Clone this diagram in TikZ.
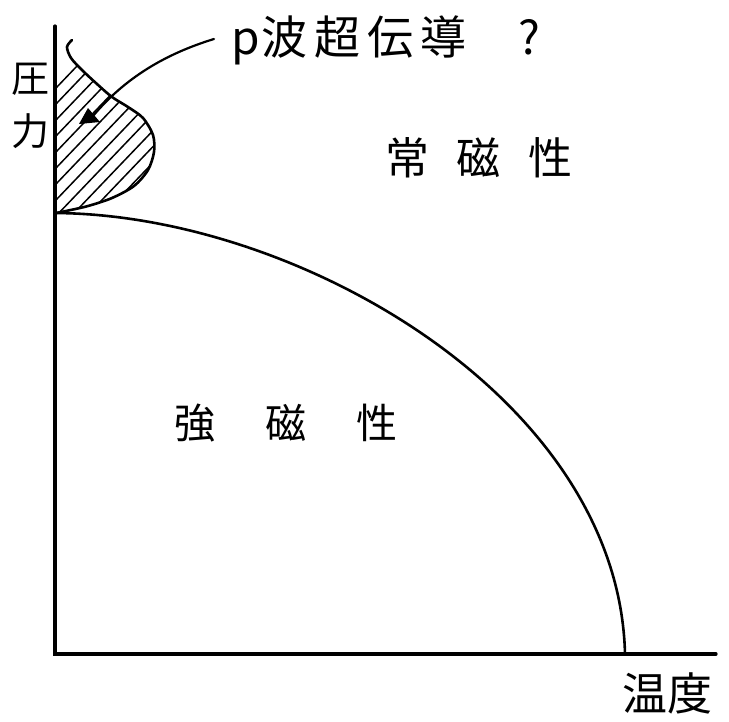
\documentclass[tikz,border=0pt]{standalone}
\usepackage{fontspec}
\newfontfamily\cjk{Noto Sans CJK JP}
\tikzset{
  axisline/.style={line width=3.2pt, line cap=round},
  phasecurve/.style={line width=2.6pt, line cap=round},
  hatchline/.style={line width=1.5pt},
  leader/.style={line width=2.2pt, line cap=round},
  tiphead/.style={fill=black},
  lbl/.style={inner sep=0pt, font=\cjk},
}
\begin{document}
\begin{tikzpicture}[x=1pt,y=-1pt]
\useasboundingbox (0,0) rectangle (729,721);
% axes
\coordinate (origin) at (55,654);
\coordinate (ytop) at (55,26);
\coordinate (xend) at (716,654);
\draw[axisline] (ytop) -- (origin) -- (xend);
% phase boundary
\coordinate (tcstart) at (56,213);
\coordinate (tcend) at (625,654);
\draw[phasecurve] (tcstart) .. controls (300,215) and (619,400) .. (tcend);
% hatched region
\begin{scope}
\clip (56,72) -- plot[smooth] coordinates {(71,58) (82,70) (97,84) (112,97) (128,107) (143,118) (153,135) (154,152) (148,170) (134,186) (112,198) (88,206) (66,211) (56,213)} -- cycle;
\foreach \i in {0,...,16} {\draw[hatchline] (56,{88+16*\i}) -- ++(220,-230);}
\end{scope}
\draw[phasecurve] plot[smooth] coordinates {(72,40) (67,47) (71,58) (82,70) (97,84) (112,97) (128,107) (143,118) (153,135) (154,152) (148,170) (134,186) (112,198) (88,206) (66,211) (56,213)};
% labels
\node[lbl, anchor=west, font=\cjk\fontsize{46}{50}\selectfont] (psc) at (231,40) {p\hspace{2pt}波\hspace{7pt}超\hspace{7pt}伝\hspace{7pt}導\hspace{52pt}?};
\coordinate (leadstart) at (214,39);
\coordinate (leadend) at (93,116);
\coordinate (leadtip) at (79,124);
\draw[leader] (leadstart) .. controls (165,54) and (125,78) .. (leadend);
\fill[tiphead] (leadtip) -- (88,108) -- (100,122) -- cycle;
\node[lbl, font=\cjk\fontsize{44}{48}\selectfont] (para) at (479,158) {常\hspace{28pt}磁\hspace{28pt}性};
\node[lbl, font=\cjk\fontsize{41}{44}\selectfont] (ferro) at (286,423) {強\hspace{50pt}磁\hspace{50pt}性};
\node[lbl, font=\cjk\fontsize{38}{40}\selectfont] (p1) at (31,79) {圧};
\node[lbl, font=\cjk\fontsize{38}{40}\selectfont] (p2) at (31,131) {力};
\node[lbl, font=\cjk\fontsize{45}{48}\selectfont] (temp) at (667,693) {温度};
\end{tikzpicture}
\end{document}
